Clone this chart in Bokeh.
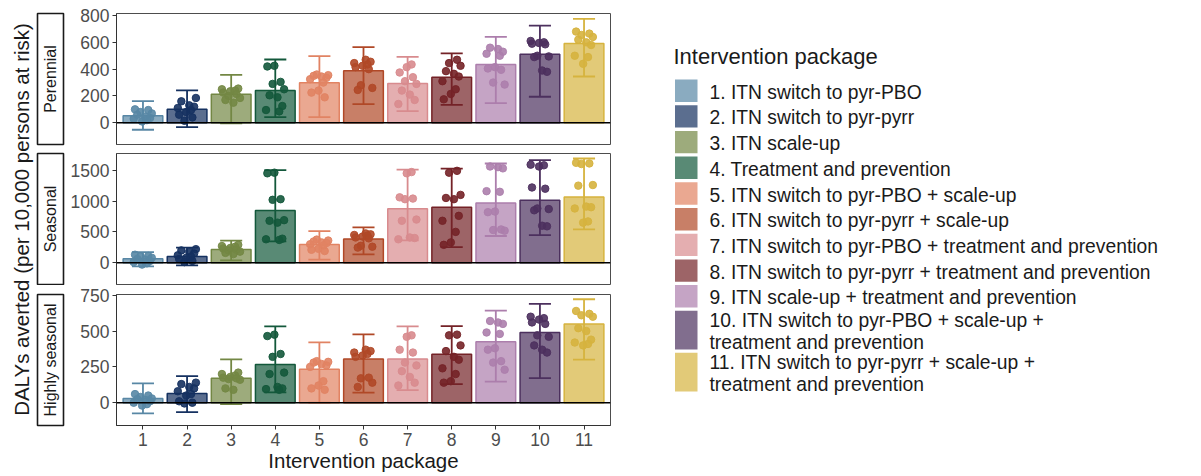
import math
from bokeh.plotting import figure
from bokeh.models import Range1d, FixedTicker, ColumnDataSource, Span
from bokeh.layouts import row, column
from bokeh.transform import dodge
from bokeh.embed import file_html
from bokeh.resources import INLINE
from bokeh.core.properties import value

FONT = "Liberation Sans"

# ---------------- data ----------------
CATEGORIES = [1, 2, 3, 4, 5, 6, 7, 8, 9, 10, 11]
LABELS = [
    "1. ITN switch to pyr-PBO",
    "2. ITN switch to pyr-pyrr",
    "3. ITN scale-up",
    "4. Treatment and prevention",
    "5. ITN switch to pyr-PBO + scale-up",
    "6. ITN switch to pyr-pyrr + scale-up",
    "7. ITN switch to pyr-PBO + treatment and prevention",
    "8. ITN switch to pyr-pyrr + treatment and prevention",
    "9. ITN scale-up + treatment and prevention",
    "10. ITN switch to pyr-PBO + scale-up +\ntreatment and prevention",
    "11. ITN switch to pyr-pyrr + scale-up +\ntreatment and prevention",
]
COLORS = ["#5887a5", "#153160", "#738744", "#13583b", "#e18363", "#b04827",
          "#d88b8e", "#742227", "#ac7eac", "#4c305e", "#d6b33e"]
PANELS = ["Perennial", "Seasonal", "Highly seasonal"]
LEGEND_TITLE = "Intervention package"
X_TITLE = "Intervention package"
Y_TITLE = "DALYs averted (per 10,000 persons at risk)"

PER_MEAN = [52, 101, 213, 241, 298, 388, 293, 340, 435, 512, 591]
PER_LOW = [-52, -33, -5, 42, 42, 139, 87, 134, 146, 194, 345]
PER_HIGH = [161, 241, 358, 472, 497, 564, 492, 517, 641, 725, 775]
PER_POINTS = [
    [100, 95, 80, 70, 60, 45, 35, 30, 20, 10],
    [185, 160, 130, 120, 110, 95, 80, 60, 40, 15],
    [255, 250, 240, 235, 225, 215, 200, 185, 170, 150],
    [425, 420, 305, 290, 250, 205, 190, 125, 95, 85],
    [360, 355, 350, 345, 335, 325, 300, 240, 225, 190],
    [470, 455, 445, 435, 425, 415, 400, 280, 260, 245],
    [435, 415, 375, 340, 310, 290, 240, 210, 170, 140],
    [470, 445, 425, 385, 365, 345, 310, 250, 215, 175],
    [560, 550, 530, 515, 500, 415, 405, 395, 300, 285],
    [610, 600, 595, 590, 585, 500, 495, 490, 390, 380],
    [680, 665, 655, 640, 620, 600, 580, 500, 490, 440],
]

SEA_MEAN = [65, 102, 216, 845, 297, 384, 877, 899, 969, 1012, 1066]
SEA_LOW = [-60, -44, 37, 346, 50, 135, 362, 254, 433, 448, 541]
SEA_HIGH = [172, 244, 357, 1500, 512, 574, 1511, 1527, 1609, 1662, 1690]
SEA_POINTS = [
    [130, 110, 100, 80, 60, 50, 30, 10, -10, -30],
    [220, 200, 180, 150, 120, 100, 80, 60, 30, 10],
    [290, 270, 260, 240, 230, 210, 200, 180, 160, 140],
    [1460, 1450, 1030, 1020, 690, 680, 650, 390, 380, 370],
    [375, 360, 345, 330, 320, 300, 280, 225, 210, 190],
    [475, 460, 450, 440, 425, 410, 395, 275, 260, 245],
    [1470, 1450, 1060, 1040, 1030, 700, 680, 410, 400, 380],
    [1490, 1460, 1100, 1050, 1030, 760, 680, 500, 330, 290],
    [1560, 1550, 1530, 1160, 1150, 830, 820, 540, 530, 520],
    [1590, 1580, 1560, 1220, 1200, 880, 870, 850, 600, 590],
    [1620, 1610, 1600, 1260, 1250, 910, 900, 880, 670, 650],
]

HS_MEAN = [30, 65, 170, 266, 233, 305, 305, 338, 426, 489, 549]
HS_LOW = [-75, -66, -10, 72, 0, 70, 88, 130, 147, 172, 301]
HS_HIGH = [135, 186, 303, 533, 421, 477, 533, 535, 643, 689, 722]
HS_POINTS = [
    [60, 50, 40, 30, 25, 20, 10, 0, -10, -20],
    [140, 130, 110, 100, 80, 60, 50, 10, 0, -5],
    [210, 200, 190, 180, 175, 170, 165, 160, 100, 90],
    [475, 465, 340, 320, 210, 200, 110, 100, 95, 90],
    [290, 285, 280, 270, 260, 250, 150, 120, 100, 90],
    [370, 360, 350, 340, 330, 320, 175, 170, 140, 110],
    [470, 460, 370, 350, 280, 260, 220, 180, 140, 120],
    [475, 470, 400, 360, 320, 300, 240, 200, 150, 140],
    [570, 560, 550, 490, 480, 380, 370, 290, 280, 230],
    [600, 590, 580, 560, 550, 470, 460, 400, 370, 350],
    [640, 620, 610, 600, 520, 500, 440, 420, 410, 400],
]

Y_RANGES = [(-162, 815), (-353, 1771), (-159, 755)]
Y_TICKS = [[0, 200, 400, 600, 800], [0, 500, 1000, 1500], [0, 250, 500, 750]]

# horizontal jitter pattern for the points (positions only)
JITTER = [-0.18, 0.12, -0.06, 0.2, -0.13, 0.05, 0.16, -0.21, 0.09, -0.02]

XR = Range1d(0.4, 11.6)

PANEL_W = 548
HEIGHTS = [148, 137, 191]
TOPS = [13, 5, 9]
BOTTOMS = [4, 1, 51]


def make_panel(i, means, lows, highs, points):
    last = i == 2
    p = figure(width=PANEL_W, height=HEIGHTS[i], x_range=XR,
               y_range=Range1d(*Y_RANGES[i]), output_backend="svg",
               toolbar_location=None,
               x_axis_location="below" if last else None,
               min_border_left=50, min_border_right=4,
               min_border_top=TOPS[i], min_border_bottom=BOTTOMS[i],
               background_fill_color="white", border_fill_color="white",
               outline_line_color="#4d4d4d", outline_line_width=1)
    p.xgrid.visible = False
    p.ygrid.visible = False

    src = ColumnDataSource(dict(x=CATEGORIES, top=means, low=lows, high=highs,
                                color=COLORS))
    p.vbar(x="x", top="top", bottom=0, width=0.9, source=src,
           fill_color="color", fill_alpha=0.7, line_color="color",
           line_width=1.5)
    p.segment(x0="x", x1="x", y0="low", y1="high", source=src,
              line_color="color", line_width=1.8)
    p.segment(x0=dodge("x", -0.25, range=XR), x1=dodge("x", 0.25, range=XR),
              y0="high", y1="high", source=src, line_color="color", line_width=1.8)
    p.segment(x0=dodge("x", -0.25, range=XR), x1=dodge("x", 0.25, range=XR),
              y0="low", y1="low", source=src, line_color="color", line_width=1.8)

    px, py, pc = [], [], []
    for k, (cat, vals) in enumerate(zip(CATEGORIES, points)):
        for j, v in enumerate(vals):
            px.append(cat + JITTER[(j + 3 * k) % len(JITTER)])
            py.append(v)
            pc.append(COLORS[k])
    p.scatter(x=px, y=py, size=7.5, fill_color=pc, line_color=pc,
              fill_alpha=0.9, line_alpha=0.9)

    p.add_layout(Span(location=0, dimension="width", line_color="black",
                      line_width=1.6))

    ya = p.yaxis[0]
    ya.ticker = FixedTicker(ticks=Y_TICKS[i])
    ya.minor_tick_line_color = None
    ya.major_tick_out = 4
    ya.major_tick_in = 0
    ya.major_label_standoff = 3
    ya.major_tick_line_color = "#333333"
    ya.axis_line_color = "#333333"
    ya.major_label_text_font = FONT
    ya.major_label_text_font_size = "17.5px"
    ya.major_label_text_color = "#4d4d4d"

    if last:
        xa = p.xaxis[0]
        xa.ticker = FixedTicker(ticks=CATEGORIES)
        xa.minor_tick_line_color = None
        xa.major_tick_out = 4
        xa.major_tick_in = 0
        xa.major_label_standoff = 3
        xa.major_tick_line_color = "#333333"
        xa.axis_line_color = "#333333"
        xa.major_label_text_font = FONT
        xa.major_label_text_font_size = "17.5px"
        xa.major_label_text_color = "#4d4d4d"
        xa.axis_label = X_TITLE
        xa.axis_label_standoff = 0
        xa.axis_label_text_font = FONT
        xa.axis_label_text_font_size = "20.5px"
        xa.axis_label_text_font_style = "normal"
        xa.axis_label_text_color = "#1a1a1a"
    return p


def make_strip(i):
    s = figure(width=31, height=HEIGHTS[i], x_range=Range1d(0, 1),
               y_range=Range1d(0, 1), output_backend="svg",
               toolbar_location=None, x_axis_location=None,
               y_axis_location=None, min_border_left=2, min_border_right=3,
               min_border_top=TOPS[i], min_border_bottom=BOTTOMS[i],
               background_fill_color="white", border_fill_color="white",
               outline_line_color="#1a1a1a", outline_line_width=1.6)
    s.xgrid.visible = False
    s.ygrid.visible = False
    s.text(x=[0.5], y=[0.5], text=[PANELS[i]], angle=math.pi / 2,
           text_align="center", text_baseline="middle",
           text_font=value(FONT), text_font_size="16px", text_color="#1a1a1a")
    return s


panels = [make_panel(0, PER_MEAN, PER_LOW, PER_HIGH, PER_POINTS),
          make_panel(1, SEA_MEAN, SEA_LOW, SEA_HIGH, SEA_POINTS),
          make_panel(2, HS_MEAN, HS_LOW, HS_HIGH, HS_POINTS)]
strips = [make_strip(i) for i in range(3)]

TOTAL_H = sum(HEIGHTS)

# y title column
YT_W = 35
yt = figure(width=YT_W, height=TOTAL_H, x_range=Range1d(0, YT_W),
            y_range=Range1d(TOTAL_H, 0), output_backend="svg",
            toolbar_location=None, x_axis_location=None, y_axis_location=None,
            min_border=0, outline_line_color=None,
            background_fill_color="white", border_fill_color="white")
yt.xgrid.visible = False
yt.ygrid.visible = False
yt.text(x=[20.5], y=[219], text=[Y_TITLE], angle=math.pi / 2,
        text_align="center", text_baseline="middle", text_font=value(FONT),
        text_font_size="20.5px", text_color="#1a1a1a")

# legend column
LEG_W = 585
LEG_X = YT_W + 31 + PANEL_W  # page x of the legend column
lg = figure(width=LEG_W, height=TOTAL_H, x_range=Range1d(LEG_X, LEG_X + LEG_W),
            y_range=Range1d(TOTAL_H, 0), output_backend="svg",
            toolbar_location=None, x_axis_location=None, y_axis_location=None,
            min_border=0, outline_line_color=None,
            background_fill_color="white", border_fill_color="white")
lg.xgrid.visible = False
lg.ygrid.visible = False
lg.text(x=[673], y=[55.5], text=[LEGEND_TITLE], text_align="left",
        text_baseline="middle", text_font=value(FONT), text_font_size="22px",
        text_color="#1a1a1a")

KEY_L, KEY_W, TEXT_X = 674.5, 22.5, 709
KEY_H, EXTRA_LINE_H, GAP, LINE_SP = 22.4, 16.3, 3.3, 21.4
kl, kr, kt, kb, kc = [], [], [], [], []
tx, ty, tt = [], [], []
yy = 79.0
for lab, col in zip(LABELS, COLORS):
    lines = lab.split("\n")
    h = KEY_H + EXTRA_LINE_H * (len(lines) - 1)
    kl.append(KEY_L); kr.append(KEY_L + KEY_W)
    kt.append(yy); kb.append(yy + h); kc.append(col)
    cy = yy + h / 2 + 1.5
    for j, line in enumerate(lines):
        tx.append(TEXT_X)
        ty.append(cy + (j - (len(lines) - 1) / 2) * LINE_SP)
        tt.append(line)
    yy += h + GAP
lg.quad(left=kl, right=kr, top=kt, bottom=kb, fill_color=kc, fill_alpha=0.7,
        line_color=None)
lg.text(x=tx, y=ty, text=tt, text_align="left", text_baseline="middle",
        text_font=value(FONT), text_font_size="19.3px", text_color="#1a1a1a")

layout = row(yt,
             column(*[row(s, p) for s, p in zip(strips, panels)]),
             lg)

open("out.html", "w").write(file_html(layout, INLINE))
